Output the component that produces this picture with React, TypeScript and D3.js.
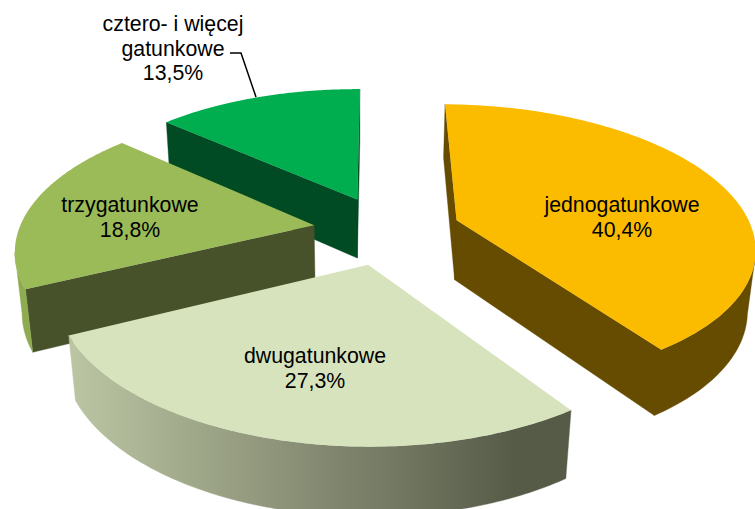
import React from "react";
import * as d3 from "d3";

const categories = ["jednogatunkowe", "dwugatunkowe", "trzygatunkowe", "cztero- i więcej gatunkowe"];
const shares = [40.4, 27.3, 18.8, 13.5];

const topColors = ["#FBBC00", "#D7E3BC", "#9BBB59", "#00AE4F"];
const sideColors = ["#664C00", "#565B48", "#47512A", "#004B23"];
const outerColors = ["#664C00", "url(#paleWall)", "#8FAB52", "#004B23"];
const drawOrder = [3, 0, 2, 1];

const labelLines = [["jednogatunkowe", "40,4%"], ["dwugatunkowe", "27,3%"], ["trzygatunkowe", "18,8%"], ["cztero- i więcej", "gatunkowe", "13,5%"]];
const labelAnchors = [[622, 212], [315, 363], [130, 212], [173, 31]];

// camera for the tilted pie
const W = 755, H = 509;
const tilt = (27.9 * Math.PI) / 180;
const dist = 5.28;
const focal = 1560;
const originX = 387, originY = 230, nadirX = 360;
const explode = 0.25;
const thickness = 0.235;
const startDeg = 0.5;

function project(X: number, Y: number, Z: number): [number, number] {
  const shift = (originX - nadirX) / (focal / dist);
  const yc = Y * Math.sin(tilt) + Z * Math.cos(tilt);
  const zc = dist + Y * Math.cos(tilt) - Z * Math.sin(tilt);
  return [nadirX + (focal * (X + shift)) / zc, originY - (focal * yc) / zc];
}

const arcs = d3
  .pie<number>()
  .sort(null)
  .startAngle((startDeg * Math.PI) / 180)
  .endAngle(((startDeg + 360) * Math.PI) / 180)(shares);

const line = d3.line<[number, number]>();

function sliceFaces(i: number) {
  const a = arcs[i];
  const mid = (a.startAngle + a.endAngle) / 2;
  const ax = explode * Math.sin(mid), ay = explode * Math.cos(mid);
  const ts = d3.range(0, 121).map((k) => a.startAngle + ((a.endAngle - a.startAngle) * k) / 120);
  const rim = ts.map((t) => [ax + Math.sin(t), ay + Math.cos(t)] as [number, number]);
  const top = (p: [number, number]) => project(p[0], p[1], 0);
  const bot = (p: [number, number]) => project(p[0], p[1], -thickness);
  const apex: [number, number] = [ax, ay];
  const p0 = rim[0], p1 = rim[rim.length - 1];
  const faces: { d: string; fill: string }[] = [];
  const add = (d: string, fill: string) => {
    const same = faces.find((f) => f.fill === fill);
    if (same) same.d += d;
    else faces.push({ d, fill });
  };
  // only faces turned to the viewer: the perimeter runs clockwise on screen, so a near edge runs leftward
  if (top(p0)[0] < top(apex)[0]) add(line([top(apex), top(p0), bot(p0), bot(apex)])! + "Z", sideColors[i]);
  if (top(apex)[0] < top(p1)[0]) add(line([top(apex), top(p1), bot(p1), bot(apex)])! + "Z", sideColors[i]);
  const near = rim.filter((p, k) => {
    const prev = rim[Math.max(k - 1, 0)], next = rim[Math.min(k + 1, rim.length - 1)];
    return top(next)[0] < top(prev)[0];
  });
  if (near.length > 1) add(line([...near.map(top), ...near.slice().reverse().map(bot)])! + "Z", outerColors[i]);
  return { faces, top: line([top(apex), ...rim.map(top)])! + "Z" };
}

export default function App() {
  const leader = d3.line()([[230, 53], [241, 53], [256, 97]])!;
  return (
    <svg width={W} height={H} style={{ position: "absolute", left: 0, top: 0 }} fontFamily="'Liberation Sans', Arial, sans-serif">
      <defs>
        <linearGradient id="paleWall" gradientUnits="userSpaceOnUse" x1={67} x2={565} y1={0} y2={0}>
          <stop offset="0" stopColor="#BCC6A3" />
          <stop offset="0.5" stopColor="#858B72" />
          <stop offset="0.9" stopColor="#565B48" />
          <stop offset="1" stopColor="#565B48" />
        </linearGradient>
      </defs>
      {drawOrder.map((i) => {
        const s = sliceFaces(i);
        return (
          <g key={categories[i]}>
            {s.faces.map((f, k) => <path key={k} d={f.d} fill={f.fill} stroke={f.fill} strokeWidth={0.4} />)}
            <path d={s.top} fill={topColors[i]} />
          </g>
        );
      })}
      <path d={leader} fill="none" stroke="#000" strokeWidth={1.5} />
      {labelLines.map((ls, i) => (
        <text key={i} textAnchor="middle" fontSize={21.3} fill="#000">
          {ls.map((t, k) => (
            <tspan key={k} x={labelAnchors[i][0]} y={labelAnchors[i][1] + k * 24.5}>{t}</tspan>
          ))}
        </text>
      ))}
    </svg>
  );
}
